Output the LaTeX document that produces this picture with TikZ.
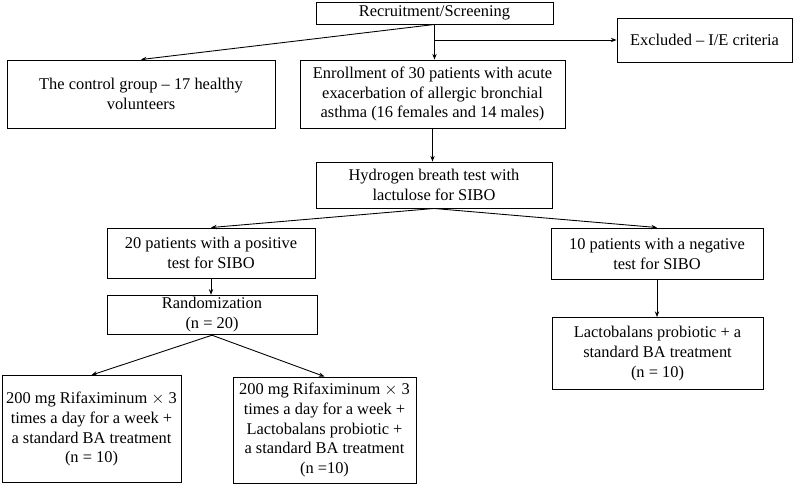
\documentclass[tikz,border=0pt]{standalone}
\usepackage{fontspec}
\setmainfont{Liberation Serif}
\usetikzlibrary{calc,positioning,arrows.meta}
\tikzset{
  fbox/.style={draw,line width=0.8pt,align=center,inner sep=2pt,minimum width=#1},
  flow/.style={-{Stealth[length=1.7mm,width=1.3mm]},line width=0.75pt},
}
\begin{document}
\begin{tikzpicture}[x=0.03cm,y=-0.03cm,font=\fontsize{14}{17}\selectfont]
\useasboundingbox (0,0) rectangle (793,492);
\node[fbox=7.11cm,minimum height=0.66cm] (rec) at (434.5,13) {Recruitment/Screening};
\node[fbox=5.25cm,minimum height=1.32cm] (excl) at (704.5,40) {Excluded -- I/E criteria};
\node[fbox=8.04cm,minimum height=2.04cm] (ctrl) at (141,94) {The control group -- 17 healthy\\volunteers};
\node[fbox=7.95cm,minimum height=2.04cm] (enr) at (432.5,94) {Enrollment of 30 patients with acute\\exacerbation of allergic bronchial\\asthma (16 females and 14 males)};
\node[fbox=7.08cm,minimum height=1.38cm] (hyd) at (434,185) {Hydrogen breath test with\\lactulose for SIBO};
\node[fbox=6.24cm,minimum height=1.5cm] (pos) at (211,253) {20 patients with a positive\\test for SIBO};
\node[fbox=6.36cm,minimum height=1.53cm] (neg) at (657,253.5) {10 patients with a negative\\test for SIBO};
\node[fbox=6.3cm,minimum height=1.14cm] (rand) at (212,315) {Randomization\\(n = 20)};
\node[fbox=6.33cm,minimum height=2.16cm] (lac) at (657.5,353.5) {Lactobalans probiotic + a\\standard BA treatment\\(n = 10)};
\node[fbox=5.37cm,minimum height=3.21cm] (trA) at (91.5,429) {200 mg Rifaximinum $\times$ 3\\times a day for a week +\\a standard BA treatment\\(n = 10)};
\node[fbox=5.49cm,minimum height=3.18cm] (trB) at (324.5,430) {200 mg Rifaximinum $\times$ 3\\times a day for a week +\\Lactobalans probiotic +\\a standard BA treatment\\(n =10)};
% branch point for the excluded
\coordinate (br) at (rec.south |- excl.west);
\draw[flow] (rec.south) -- (ctrl.north);
\draw[flow] (rec.south) -- (rec.south |- enr.north);
\draw[flow] (br) -- (excl.west);
\draw[flow] (enr.south) -- (enr.south |- hyd.north);
\draw[flow] (hyd.south) -- (pos.north);
\draw[flow] (hyd.south) -- (neg.north);
\draw[flow] (pos.south) -- (pos.south |- rand.north);
\draw[flow] (neg.south) -- (neg.south |- lac.north);
\draw[flow] (rand.south) -- (trA.north);
\draw[flow] (rand.south) -- (trB.north);
\end{tikzpicture}
\end{document}
